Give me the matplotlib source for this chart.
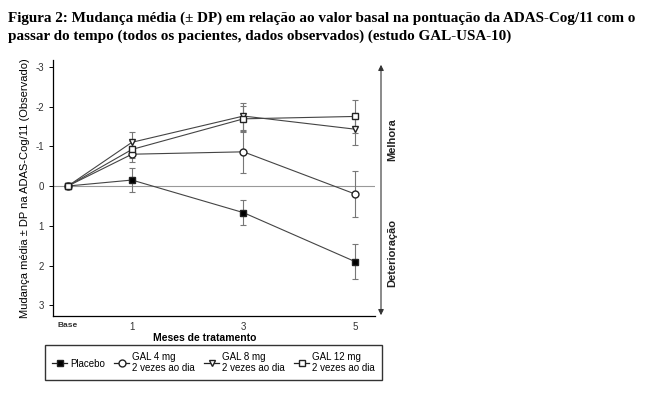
import matplotlib.pyplot as plt
from matplotlib.lines import Line2D

# x position of each visit (Base sits a little left of month 0 in the original)
months = [-0.15, 1, 3, 5]
month_labels = ["Base", "1", "3", "5"]

placebo = [0, -0.15, 0.67, 1.9]
placebo_sd = [0, 0.3, 0.32, 0.43]
gal4 = [0, -0.8, -0.86, 0.2]
gal4_sd = [0, 0.2, 0.53, 0.59]
gal8 = [0, -1.1, -1.76, -1.43]
gal8_sd = [0, 0.27, 0.34, 0.40]
gal12 = [0, -0.92, -1.69, -1.75]
gal12_sd = [0, 0.22, 0.32, 0.42]

series = [
    ("Placebo", placebo, placebo_sd, "s", "black"),
    ("GAL 4 mg\n2 vezes ao dia", gal4, gal4_sd, "o", "white"),
    ("GAL 8 mg\n2 vezes ao dia", gal8, gal8_sd, "v", "white"),
    ("GAL 12 mg\n2 vezes ao dia", gal12, gal12_sd, "s", "white"),
]

plt.rcParams['font.family'] = ['Liberation Sans', 'DejaVu Sans']

fig = plt.figure(figsize=(6.64, 3.94), dpi=100)
ax = fig.add_axes([53 / 664, 1 - 316 / 394, 322 / 664, 256 / 394])

ax.axhline(0, color="#999999", lw=0.8, zorder=1)

handles = []
for label, vals, sd, mk, fc in series:
    ax.errorbar(months, vals, yerr=sd, color="#444444", lw=0.8, elinewidth=0.8,
                capsize=2.5, capthick=0.8, marker=mk, markersize=5,
                markerfacecolor=fc, markeredgecolor="#222222", ecolor="#777777", zorder=3)
    handles.append(Line2D([], [], color="#222222", lw=0.9, marker=mk, markersize=5,
                          markerfacecolor=fc, markeredgecolor="#222222"))

ax.set_xlim(-0.417, 5.36)
ax.set_ylim(3.27, -3.17)
ax.set_yticks([-3, -2, -1, 0, 1, 2, 3])
ax.set_yticklabels(["-3", "-2", "-1", "0", "1", "2", "3"], fontsize=7, color="#333333")
ax.set_xticks(months)
ax.set_xticklabels(month_labels, fontsize=7, color="#333333")
ax.get_xticklabels()[0].set_fontweight("bold")
ax.get_xticklabels()[0].set_fontsize(6)
ax.tick_params(axis="y", length=3, width=0.7)
ax.tick_params(axis="x", length=0, pad=4)
for s in ["top", "right"]:
    ax.spines[s].set_visible(False)
for s in ["left", "bottom"]:
    ax.spines[s].set_linewidth(0.9)

ax.set_ylabel("Mudança média ± DP na ADAS-Cog/11 (Observado)", fontsize=8, labelpad=4)
fig.text(205 / 664, 1 - 338 / 394, "Meses de tratamento", fontsize=7.5, fontweight="bold",
         ha="center", va="center")

# improvement / deterioration arrow on the right
fig.add_artist(plt.matplotlib.patches.FancyArrowPatch(
    (381 / 664, 1 - 62 / 394), (381 / 664, 1 - 318 / 394), transform=fig.transFigure,
    arrowstyle="<|-|>", mutation_scale=8, color="#333333", lw=0.8))
fig.text(392 / 664, 1 - 140 / 394, "Melhora", rotation=90, fontsize=8, fontweight="bold",
         ha="center", va="center", color="#222222")
fig.text(392 / 664, 1 - 253 / 394, "Deterioração", rotation=90, fontsize=8, fontweight="bold",
         ha="center", va="center", color="#222222")

leg = fig.legend(handles, [s[0] for s in series], ncol=4, loc="upper left",
                 bbox_to_anchor=(45 / 664, 1 - 345 / 394), borderaxespad=0, fontsize=7,
                 frameon=True, fancybox=False, edgecolor="black", handlelength=1.6,
                 handletextpad=0.3, columnspacing=0.9, borderpad=0.7, labelspacing=0.2)
leg.get_frame().set_linewidth(1.0)

fig.text(8 / 664, 1 - 18 / 394,
         "Figura 2: Mudança média (± DP) em relação ao valor basal na pontuação da ADAS-Cog/11 com o",
         fontsize=10.9, fontweight="bold", family="Liberation Serif", va="center")
fig.text(8 / 664, 1 - 36 / 394,
         "passar do tempo (todos os pacientes, dados observados) (estudo GAL-USA-10)",
         fontsize=10.9, fontweight="bold", family="Liberation Serif", va="center")

fig.savefig("out.png", dpi=100)
